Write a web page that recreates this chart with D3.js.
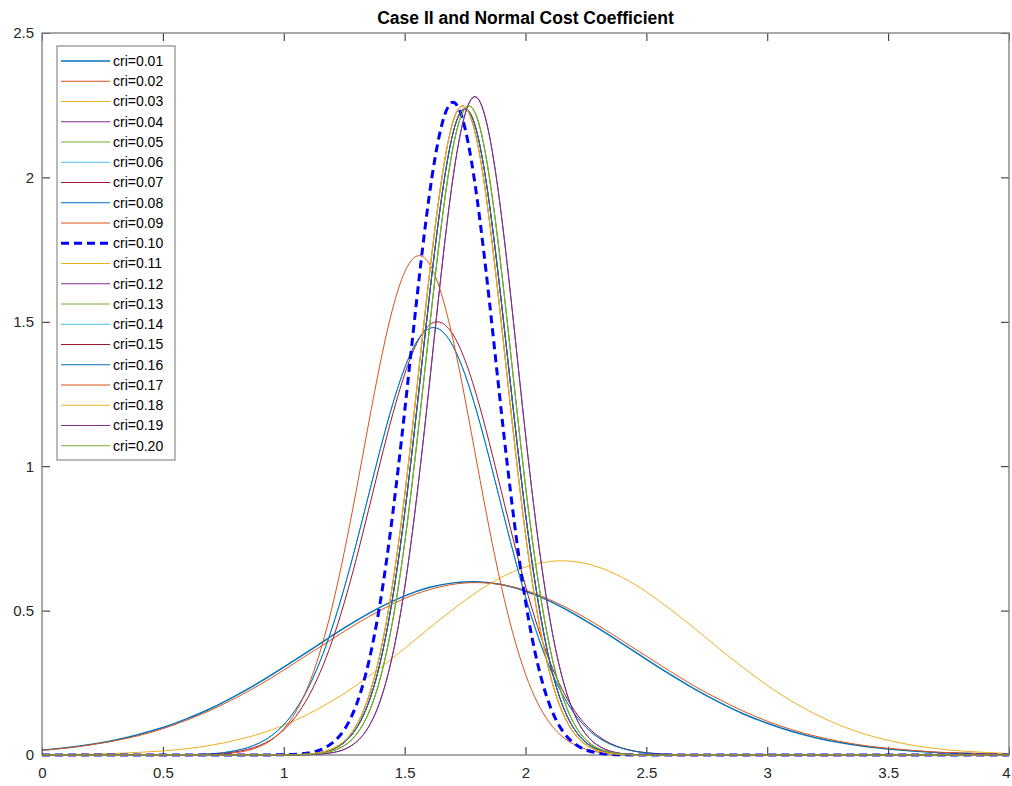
<!DOCTYPE html>
<html><head><meta charset="utf-8">
<script src="https://cdn.jsdelivr.net/npm/d3@7"></script>
<style>
body{margin:0;background:#fff;}
text{font-family:"Liberation Sans",Arial,Helvetica,sans-serif;}
</style>
</head><body>
<svg id="chart" width="1012" height="786"></svg>
<script>
// ---------- data ----------
const xGrid = [0.0,0.1,0.2,0.3,0.4,0.5,0.6,0.7,0.8,0.9,1.0,1.1,1.2,1.3,1.4,1.5,1.6,1.7,1.8,1.9,2.0,
               2.1,2.2,2.3,2.4,2.5,2.6,2.7,2.8,2.9,3.0,3.1,3.2,3.3,3.4,3.5,3.6,3.7,3.8,3.9,4.0];
const xTicks = [0,0.5,1,1.5,2,2.5,3,3.5,4];
const xTickLabels = ["0","0.5","1","1.5","2","2.5","3","3.5","4"];
const yTicks = [0,0.5,1,1.5,2,2.5];
const yTickLabels = ["0","0.5","1","1.5","2","2.5"];
const titleText = "Case II and Normal Cost Coefficient";
const seriesNames = ["cri=0.01","cri=0.02","cri=0.03","cri=0.04","cri=0.05","cri=0.06","cri=0.07",
  "cri=0.08","cri=0.09","cri=0.10","cri=0.11","cri=0.12","cri=0.13","cri=0.14","cri=0.15",
  "cri=0.16","cri=0.17","cri=0.18","cri=0.19","cri=0.20"];

const cri01 = [0.017,0.025,0.036,0.051,0.071,0.095,0.126,0.162,0.205,0.252,0.304,0.358,0.413,0.465,0.512,0.551,0.580,0.596,0.600,0.590,0.567,0.533,0.489,0.439,0.386,0.331,0.278,0.228,0.183,0.143,0.110,0.082,0.060,0.043,0.030,0.021,0.014,0.009,0.006,0.004,0.002];
const cri02 = [0.016,0.024,0.035,0.049,0.067,0.091,0.121,0.156,0.197,0.243,0.294,0.348,0.401,0.454,0.501,0.542,0.572,0.591,0.597,0.590,0.570,0.538,0.497,0.449,0.396,0.342,0.289,0.238,0.193,0.152,0.117,0.088,0.065,0.047,0.033,0.023,0.016,0.010,0.007,0.004,0.003];
const cri03 = [0.001,0.002,0.003,0.005,0.009,0.014,0.022,0.034,0.051,0.073,0.103,0.141,0.187,0.241,0.303,0.369,0.438,0.504,0.565,0.615,0.651,0.670,0.670,0.651,0.615,0.565,0.504,0.438,0.369,0.303,0.241,0.187,0.141,0.103,0.073,0.051,0.034,0.022,0.014,0.009,0.005];
const cri04 = [0,0,0,0,0,0,0,0,0,0,0,0.001,0.008,0.045,0.190,0.578,1.265,1.998,2.276,1.871,1.110,0.475,0.146,0.033,0.005,0.001,0,0,0,0,0,0,0,0,0,0,0,0,0,0,0];
const cri05 = [0,0,0,0,0,0,0,0,0,0,0,0.002,0.014,0.071,0.268,0.733,1.457,2.103,2.206,1.682,0.932,0.375,0.110,0.023,0.004,0,0,0,0,0,0,0,0,0,0,0,0,0,0,0,0];
const cri06 = [0,0,0,0,0,0,0.001,0.004,0.015,0.042,0.105,0.230,0.440,0.732,1.061,1.340,1.476,1.416,1.184,0.863,0.548,0.303,0.146,0.061,0.023,0.007,0.002,0,0,0,0,0,0,0,0,0,0,0,0,0,0];
const cri07 = [0,0,0,0,0,0,0.001,0.003,0.011,0.033,0.087,0.199,0.394,0.679,1.016,1.318,1.487,1.456,1.238,0.913,0.585,0.325,0.157,0.066,0.024,0.008,0.002,0,0,0,0,0,0,0,0,0,0,0,0,0,0];
const cri08 = [0,0,0,0,0,0,0.001,0.004,0.015,0.042,0.105,0.230,0.440,0.732,1.061,1.340,1.476,1.416,1.184,0.863,0.548,0.303,0.146,0.061,0.023,0.007,0.002,0,0,0,0,0,0,0,0,0,0,0,0,0,0];
const cri09 = [0,0,0,0,0,0,0,0.002,0.008,0.029,0.091,0.236,0.512,0.916,1.360,1.672,1.704,1.439,1.007,0.584,0.280,0.111,0.037,0.010,0.002,0,0,0,0,0,0,0,0,0,0,0,0,0,0,0,0];
const cri10 = [0,0,0,0,0,0,0,0,0,0,0.001,0.007,0.041,0.173,0.533,1.189,1.925,2.260,1.925,1.189,0.533,0.173,0.041,0.007,0.001,0,0,0,0,0,0,0,0,0,0,0,0,0,0,0,0];
const cri11 = [0,0,0,0,0,0,0,0,0,0,0,0.003,0.021,0.102,0.356,0.898,1.645,2.193,2.124,1.495,0.765,0.284,0.077,0.015,0.002,0,0,0,0,0,0,0,0,0,0,0,0,0,0,0,0];
const cri12 = [0,0,0,0,0,0,0,0,0,0,0,0.003,0.019,0.092,0.324,0.836,1.570,2.153,2.153,1.570,0.836,0.324,0.092,0.019,0.003,0,0,0,0,0,0,0,0,0,0,0,0,0,0,0,0];
const cri13 = [0,0,0,0,0,0,0,0,0,0,0,0.002,0.014,0.071,0.268,0.733,1.457,2.103,2.206,1.682,0.932,0.375,0.110,0.023,0.004,0,0,0,0,0,0,0,0,0,0,0,0,0,0,0,0];
const cri14 = [0,0,0,0,0,0,0,0,0,0,0,0.003,0.019,0.092,0.324,0.836,1.570,2.153,2.153,1.570,0.836,0.324,0.092,0.019,0.003,0,0,0,0,0,0,0,0,0,0,0,0,0,0,0,0];
const cri15 = [0,0,0,0,0,0,0,0,0,0,0,0.003,0.019,0.092,0.324,0.836,1.570,2.153,2.153,1.570,0.836,0.324,0.092,0.019,0.003,0,0,0,0,0,0,0,0,0,0,0,0,0,0,0,0];
const cri16 = [0,0,0,0,0,0,0,0,0,0,0,0.003,0.019,0.092,0.324,0.836,1.570,2.153,2.153,1.570,0.836,0.324,0.092,0.019,0.003,0,0,0,0,0,0,0,0,0,0,0,0,0,0,0,0];
const cri17 = [0,0,0,0,0,0,0,0,0,0,0,0.003,0.021,0.102,0.356,0.898,1.645,2.193,2.124,1.495,0.765,0.284,0.077,0.015,0.002,0,0,0,0,0,0,0,0,0,0,0,0,0,0,0,0];
const cri18 = [0,0,0,0,0,0,0,0,0,0,0,0.003,0.021,0.102,0.356,0.898,1.645,2.193,2.124,1.495,0.765,0.284,0.077,0.015,0.002,0,0,0,0,0,0,0,0,0,0,0,0,0,0,0,0];
const cri19 = [0,0,0,0,0,0,0,0,0,0,0,0.001,0.008,0.045,0.190,0.578,1.265,1.998,2.276,1.871,1.110,0.475,0.146,0.033,0.005,0.001,0,0,0,0,0,0,0,0,0,0,0,0,0,0,0];
const cri20 = [0,0,0,0,0,0,0,0,0,0,0,0.002,0.014,0.071,0.268,0.733,1.457,2.103,2.206,1.682,0.932,0.375,0.110,0.023,0.004,0,0,0,0,0,0,0,0,0,0,0,0,0,0,0,0];

const seriesValues = [cri01,cri02,cri03,cri04,cri05,cri06,cri07,cri08,cri09,cri10,
                      cri11,cri12,cri13,cri14,cri15,cri16,cri17,cri18,cri19,cri20];
const seriesColors = ["#0072BD","#D95319","#EDB120","#7E2F8E","#77AC30","#4DBEEE","#A2142F",
  "#0072BD","#D95319","#0000FF","#EDB120","#7E2F8E","#77AC30","#4DBEEE","#A2142F",
  "#0072BD","#D95319","#EDB120","#7E2F8E","#77AC30"];
const seriesWidths = [1.5,1,1,1,1,1,1,1,1,3,1,1,1,1,1,1,1,1,1,1];
const seriesDashes = [null,null,null,null,null,null,null,null,null,"8,5",null,null,null,null,null,null,null,null,null,null];

// ---------- layout ----------
const plot = {left: 42, top: 33, right: 1009, bottom: 755};

const svg = d3.select("#chart");
const x = d3.scaleLinear().domain([0, 4]).range([plot.left, plot.right]);
const y = d3.scaleLinear().domain([0, 2.5]).range([plot.bottom, plot.top]);

svg.append("defs").append("clipPath").attr("id","clip")
  .append("rect").attr("x",plot.left).attr("y",plot.top)
  .attr("width",plot.right-plot.left).attr("height",plot.bottom-plot.top+3);

// title
svg.append("text").attr("x",(plot.left+plot.right)/2).attr("y",24)
  .attr("text-anchor","middle").attr("font-size",17.5).attr("font-weight","bold")
  .attr("fill","#000").text(titleText);

// axes (inside ticks)
const tickColor = "#262626";
const tickFont = 15;
function styleAxis(g){
  g.select(".domain").remove();
  g.selectAll(".tick line").attr("stroke", tickColor);
  g.selectAll(".tick text").attr("fill","#262626").attr("font-size",tickFont)
    .style("font-family","'Liberation Sans',Arial,sans-serif");
}
const gxb = svg.append("g").attr("transform",`translate(0,${plot.bottom})`)
  .call(d3.axisBottom(x).tickValues(xTicks).tickFormat((d,i)=>xTickLabels[i])
        .tickSizeInner(-8).tickSizeOuter(0).tickPadding(12)).call(styleAxis);
// keep the last label inside the canvas
gxb.selectAll(".tick text").filter((d,i,n)=>i===n.length-1).attr("dx",-3);
svg.append("g").attr("transform",`translate(0,${plot.top})`)
  .call(d3.axisTop(x).tickValues(xTicks).tickFormat("")
        .tickSizeInner(-8).tickSizeOuter(0)).call(styleAxis);
svg.append("g").attr("transform",`translate(${plot.left},0)`)
  .call(d3.axisLeft(y).tickValues(yTicks).tickFormat((d,i)=>yTickLabels[i])
        .tickSizeInner(-8).tickSizeOuter(0).tickPadding(8)).call(styleAxis);
svg.append("g").attr("transform",`translate(${plot.right},0)`)
  .call(d3.axisRight(y).tickValues(yTicks).tickFormat("")
        .tickSizeInner(-8).tickSizeOuter(0)).call(styleAxis);

// box
svg.append("rect").attr("x",plot.left).attr("y",plot.top)
  .attr("width",plot.right-plot.left).attr("height",plot.bottom-plot.top)
  .attr("fill","none").attr("stroke","#8c8c8c").attr("stroke-width",1.5);

// lines (drawn over the box, like the reference)
const line = d3.line().x(d => x(d[0])).y(d => y(d[1])).curve(d3.curveNatural);
const gLines = svg.append("g").attr("clip-path","url(#clip)");
seriesValues.forEach((vals, i) => {
  const pts = xGrid.map((xv, j) => [xv, vals[j]]);
  gLines.append("path").attr("d", line(pts)).attr("fill","none")
    .attr("stroke", seriesColors[i]).attr("stroke-width", seriesWidths[i])
    .attr("stroke-dasharray", seriesDashes[i]);
});

// legend
const lg = {x: 57, y: 46, w: 118, h: 414, row0: 61, step: 20.25};
const gLeg = svg.append("g");
gLeg.append("rect").attr("x",lg.x).attr("y",lg.y).attr("width",lg.w).attr("height",lg.h)
  .attr("fill","#fff").attr("stroke","#8c8c8c").attr("stroke-width",1.2);
seriesNames.forEach((name, i) => {
  const yy = lg.row0 + i*lg.step;
  gLeg.append("line").attr("x1",61).attr("x2",110).attr("y1",yy).attr("y2",yy)
    .attr("stroke",seriesColors[i]).attr("stroke-width",seriesWidths[i])
    .attr("stroke-dasharray",seriesDashes[i]);
  gLeg.append("text").attr("x",113).attr("y",yy).attr("dy","0.35em")
    .attr("font-size",14).attr("fill","#000").text(name);
});
</script>
</body></html>
